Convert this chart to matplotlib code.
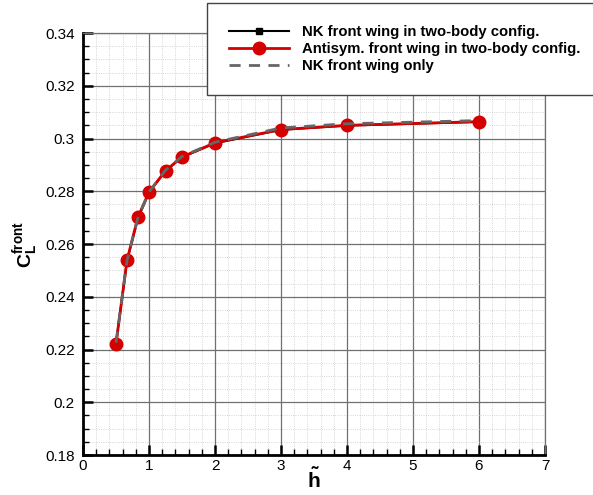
import matplotlib
matplotlib.use("Agg")
import matplotlib.pyplot as plt
from matplotlib.ticker import MultipleLocator

plt.rcParams['font.family'] = ['Liberation Sans', 'DejaVu Sans']
plt.rcParams['mathtext.fontset'] = 'custom'
plt.rcParams['mathtext.rm'] = 'Liberation Sans'
plt.rcParams['mathtext.bf'] = 'Liberation Sans:bold'

h = [0.5, 0.667, 0.833, 1.0, 1.25, 1.5, 2.0, 3.0, 4.0, 6.0]
cl_nk_two = [0.2225, 0.2537, 0.2698, 0.2795, 0.2877, 0.2929, 0.2982, 0.3033, 0.3049, 0.3063]
cl_anti_two = [0.2221, 0.2539, 0.2702, 0.2797, 0.2878, 0.2930, 0.2984, 0.3034, 0.3050, 0.3064]
cl_nk_only = [0.2226, 0.2538, 0.2700, 0.2797, 0.2880, 0.2932, 0.2986, 0.3040, 0.3056, 0.3068]

labels = ['NK front wing in two-body config.',
          'Antisym. front wing in two-body config.',
          'NK front wing only']

fig = plt.figure(figsize=(5.93, 4.95), dpi=100)
ax = fig.add_axes([0.14, 0.0808, 0.779, 0.8525])

l1, = ax.plot(h, cl_nk_two, color='black', lw=1.5, marker='s', ms=5, zorder=3)
l2, = ax.plot(h, cl_anti_two, color='#d40000', lw=2, marker='o', ms=9, zorder=4)
l3, = ax.plot(h, cl_nk_only, color='#666666', lw=2, ls=(0, (4, 3)), zorder=5)

ax.set_xlim(0, 7)
ax.set_ylim(0.18, 0.34)
ax.xaxis.set_major_locator(MultipleLocator(1))
ax.xaxis.set_minor_locator(MultipleLocator(0.2))
ax.yaxis.set_major_locator(MultipleLocator(0.02))
ax.yaxis.set_minor_locator(MultipleLocator(0.005))
ax.set_yticklabels([f'{v:g}' for v in ax.get_yticks()])
ax.set_xticklabels([f'{v:g}' for v in ax.get_xticks()])

ax.grid(which='major', color='#707070', lw=0.9, ls='-')
ax.grid(which='minor', color='#c8c8c8', lw=0.6, ls=':')
ax.set_axisbelow(True)

for s in ['top', 'right']:
    ax.spines[s].set_color('#707070')
    ax.spines[s].set_linewidth(0.9)
for s in ['left', 'bottom']:
    ax.spines[s].set_color('black')
    ax.spines[s].set_linewidth(2)

ax.tick_params(which='major', direction='in', length=7, width=1.8, labelsize=11,
               top=False, right=False)
ax.tick_params(axis='y', which='major', pad=6)
ax.tick_params(axis='x', which='major', pad=3)
ax.tick_params(which='minor', direction='in', length=4, width=1, top=False, right=False)

ax.set_xlabel(r'$\mathbf{\tilde{h}}$', fontsize=15, labelpad=-4)
ax.set_ylabel(r'$\mathbf{C_L^{front}}$', fontsize=14, labelpad=4)

leg = fig.legend([l1, l2, l3], labels, loc='lower left',
                 bbox_to_anchor=(0.349, 0.808, 0.66, 0.18), mode='expand',
                 frameon=True, fancybox=False, handlelength=4.0,
                 prop={'weight': 'bold', 'size': 10.7}, borderpad=1.5,
                 labelspacing=0.2, handletextpad=0.9, borderaxespad=0)
leg.get_frame().set_edgecolor('#444444')
leg.get_frame().set_linewidth(1.0)
leg.get_frame().set_alpha(1)

fig.savefig('out.png', dpi=100)
